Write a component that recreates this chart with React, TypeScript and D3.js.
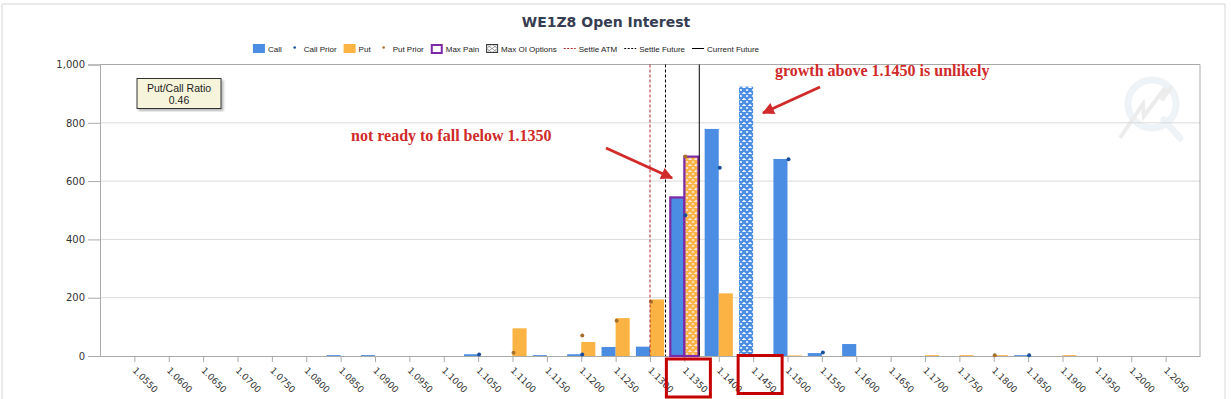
import React, { useRef, useEffect } from 'react';
import * as d3 from 'd3';

// strikes on the x axis
const strikes = [
  '1.0550', '1.0600', '1.0650', '1.0700', '1.0750', '1.0800', '1.0850', '1.0900',
  '1.0950', '1.1000', '1.1050', '1.1100', '1.1150', '1.1200', '1.1250', '1.1300',
  '1.1350', '1.1400', '1.1450', '1.1500', '1.1550', '1.1600', '1.1650', '1.1700',
  '1.1750', '1.1800', '1.1850', '1.1900', '1.1950', '1.2000', '1.2050',
];

const calls = [
  0, 0, 0, 0, 0, 0, 3, 3, 0, 0, 6, 0, 3, 6, 31, 32,
  544, 779, 924, 676, 10, 41, 0, 0, 0, 0, 3, 0, 0, 0, 0,
];
const puts = [
  0, 0, 0, 0, 0, 0, 0, 0, 0, 0, 0, 95, 0, 48, 130, 194,
  684, 215, 0, 2, 0, 0, 0, 3, 3, 3, 0, 3, 0, 0, 0,
];
const callPrior = [
  null, null, null, null, null, null, null, null, null, null, 5, null, null, 5, null, null,
  483, 646, null, 675, 12, null, null, null, null, null, 3, null, null, null, null,
];
const putPrior = [
  null, null, null, null, null, null, null, null, null, null, null, 11, null, 70, 121, 186,
  684, null, null, null, null, null, null, null, null, 3, null, null, null, null, null,
];

const maxPainStrike = '1.1350';
const maxOiCallStrike = '1.1450';
const maxOiPutStrike = '1.1350';
const settleAtm = 1.13;
const settleFuture = 1.13225;
const currentFuture = 1.13717;
const putCallRatio = '0.46';
const yTicks = [0, 200, 400, 600, 800, 1000];
const highlighted = ['1.1350', '1.1450'];

const legendItems = [
  { key: 'call', label: 'Call' },
  { key: 'callPrior', label: 'Call Prior' },
  { key: 'put', label: 'Put' },
  { key: 'putPrior', label: 'Put Prior' },
  { key: 'maxPain', label: 'Max Pain' },
  { key: 'maxOi', label: 'Max OI Options' },
  { key: 'settleAtm', label: 'Settle ATM' },
  { key: 'settleFuture', label: 'Settle Future' },
  { key: 'currentFuture', label: 'Current Future' },
];

const CALL = '#4a8de3';
const PUT = '#fbb444';
const CALL_PRIOR = '#1b4f9a';
const PUT_PRIOR = '#a86f2c';
const PAIN = '#7d2aa8';
const RED = '#d02a2a';
const FONT = 'Tahoma, "Liberation Sans Narrow", "Liberation Sans", sans-serif';

const App = () => {
  const ref = useRef(null);
  const width = 1231;
  const height = 399;
  const left = 100;
  const right = 1200;
  const top = 64.5;
  const bottom = 356;

  useEffect(() => {
    const svg = d3.select(ref.current);
    svg.selectAll('*').remove();

    const x = d3.scalePoint().domain(strikes).range([left, right]).padding(1);
    const step = x.step();
    const barW = step * 0.41;
    const xv = d3
      .scaleLinear()
      .domain([+strikes[0], +strikes[strikes.length - 1]])
      .range([x(strikes[0]), x(strikes[strikes.length - 1])]);
    const y = d3.scaleLinear().domain([0, 1000]).range([bottom, top]);

    const defs = svg.append('defs');
    const hatch = (id, bg, fg) => {
      const p = defs
        .append('pattern')
        .attr('id', id)
        .attr('patternUnits', 'userSpaceOnUse')
        .attr('width', 6)
        .attr('height', 6);
      p.append('rect').attr('width', 6).attr('height', 6).attr('fill', bg);
      p.append('path')
        .attr('d', 'M0,0L6,6M6,0L0,6M-1,5L1,7M5,-1L7,1M-1,1L1,-1M5,7L7,5')
        .attr('stroke', fg)
        .attr('stroke-width', 2.3);
    };
    hatch('hatchCall', '#f4f8fd', CALL);
    hatch('hatchPut', '#fbe6dc', PUT);
    defs
      .append('marker')
      .attr('id', 'arrow')
      .attr('viewBox', '0 0 10 10')
      .attr('refX', 9)
      .attr('refY', 5)
      .attr('markerWidth', 4.5)
      .attr('markerHeight', 4)
      .attr('orient', 'auto')
      .append('path')
      .attr('d', 'M0,0L10,5L0,10z')
      .attr('fill', RED);
    const shadow = defs.append('filter').attr('id', 'shadow');
    shadow
      .append('feDropShadow')
      .attr('dx', 2)
      .attr('dy', 2)
      .attr('stdDeviation', 1)
      .attr('flood-color', '#888')
      .attr('flood-opacity', 0.6);

    // page frame
    svg.append('path')
      .attr('d', `M2,399V4H1225V399`)
      .attr('fill', 'none')
      .attr('stroke', '#d6d6d6');

    // title
    svg.append('text')
      .attr('x', 606)
      .attr('y', 27)
      .attr('text-anchor', 'middle')
      .attr('font-family', '"DejaVu Sans", sans-serif')
      .attr('font-weight', 'bold')
      .attr('font-size', 14)
      .attr('fill', '#363d52')
      .text('WE1Z8 Open Interest');

    // watermark
    const wm = svg.append('g');
    wm.append('circle')
      .attr('cx', 1152).attr('cy', 104).attr('r', 24)
      .attr('fill', 'none').attr('stroke', '#eef3f7').attr('stroke-width', 7);
    wm.append('path')
      .attr('d', 'M1164,120L1180,138')
      .attr('stroke', '#eef3f7').attr('stroke-width', 7).attr('stroke-linecap', 'round');
    wm.append('path')
      .attr('d', 'M1120,138L1143,104L1144,116L1165,88L1162,100L1172,86')
      .attr('fill', 'none').attr('stroke', '#ececec').attr('stroke-width', 4);

    // grid
    svg.append('g')
      .selectAll('line')
      .data(yTicks.filter(t => t > 0 && t < 1000))
      .enter()
      .append('line')
      .attr('x1', left).attr('x2', right)
      .attr('y1', d => y(d)).attr('y2', d => y(d))
      .attr('stroke', '#dadada');

    svg.append('path')
      .attr('d', `M${left},${y(1000)}H${right}V${bottom}`)
      .attr('fill', 'none')
      .attr('stroke', '#a8a8a8');

    // y axis
    const yAxis = svg.append('g')
      .attr('transform', `translate(${left},0)`)
      .call(d3.axisLeft(y).tickValues(yTicks).tickFormat(d3.format(',')).tickSize(12).tickPadding(3));
    yAxis.select('.domain').attr('stroke', '#aaa');
    yAxis.selectAll('line').attr('stroke', '#aaa');
    yAxis.selectAll('text')
      .attr('font-family', '"DejaVu Sans", sans-serif')
      .attr('font-size', 10)
      .attr('fill', '#333');

    // x axis
    const xAxis = svg.append('g')
      .attr('transform', `translate(0,${bottom})`)
      .call(d3.axisBottom(x).tickSize(6).tickSizeOuter(0));
    xAxis.select('.domain').attr('stroke', '#aaa');
    xAxis.selectAll('line').attr('stroke', '#aaa');
    xAxis.selectAll('text')
      .attr('font-family', '"DejaVu Sans", sans-serif')
      .attr('font-size', 9)
      .attr('fill', '#333')
      .attr('text-anchor', 'start')
      .attr('dy', 0)
      .attr('y', 0)
      .attr('transform', 'translate(-3,15) rotate(45)');

    const rows = strikes.map((s, i) => ({
      s,
      call: calls[i],
      put: puts[i],
      callPrior: callPrior[i],
      putPrior: putPrior[i],
    }));

    // call bars
    svg.append('g')
      .selectAll('rect')
      .data(rows.filter(d => d.call > 0))
      .enter()
      .append('rect')
      .attr('x', d => x(d.s) - barW)
      .attr('y', d => y(d.call))
      .attr('width', barW)
      .attr('height', d => bottom - y(d.call))
      .attr('fill', d => (d.s === maxOiCallStrike ? 'url(#hatchCall)' : CALL))
      .attr('stroke', d => (d.s === maxPainStrike ? PAIN : 'none'))
      .attr('stroke-width', 2.2);

    // put bars
    svg.append('g')
      .selectAll('rect')
      .data(rows.filter(d => d.put > 0))
      .enter()
      .append('rect')
      .attr('x', d => x(d.s))
      .attr('y', d => y(d.put))
      .attr('width', barW)
      .attr('height', d => bottom - y(d.put))
      .attr('fill', d => (d.s === maxOiPutStrike ? 'url(#hatchPut)' : PUT))
      .attr('stroke', d => (d.s === maxPainStrike ? PAIN : 'none'))
      .attr('stroke-width', 2.2);

    // prior dots
    svg.append('g')
      .selectAll('circle')
      .data(rows.filter(d => d.callPrior !== null))
      .enter()
      .append('circle')
      .attr('cx', d => x(d.s) + 1)
      .attr('cy', d => y(d.callPrior))
      .attr('r', 2)
      .attr('fill', CALL_PRIOR);
    svg.append('g')
      .selectAll('circle')
      .data(rows.filter(d => d.putPrior !== null))
      .enter()
      .append('circle')
      .attr('cx', d => x(d.s) + 1)
      .attr('cy', d => y(d.putPrior))
      .attr('r', 2)
      .attr('fill', PUT_PRIOR);

    // settle / current lines
    const vline = (v, color, dash) =>
      svg.append('line')
        .attr('x1', xv(v)).attr('x2', xv(v))
        .attr('y1', top).attr('y2', bottom)
        .attr('stroke', color)
        .attr('stroke-width', 1)
        .attr('stroke-dasharray', dash);
    vline(settleAtm, '#b22222', '3,2');
    vline(settleFuture, '#000', '3,2');
    vline(currentFuture, '#000', null);

    // put/call ratio box
    const box = svg.append('g');
    box.append('rect')
      .attr('x', 137).attr('y', 78.5)
      .attr('width', 84).attr('height', 30)
      .attr('fill', '#f6f5dc')
      .attr('stroke', '#333')
      .attr('filter', 'url(#shadow)');
    box.append('text')
      .attr('x', 179).attr('y', 92)
      .attr('text-anchor', 'middle')
      .attr('font-family', FONT)
      .attr('font-size', 10.5)
      .attr('fill', '#222')
      .text('Put/Call Ratio');
    box.append('text')
      .attr('x', 179).attr('y', 104)
      .attr('text-anchor', 'middle')
      .attr('font-family', FONT)
      .attr('font-size', 10.5)
      .attr('fill', '#222')
      .text(putCallRatio);

    // legend
    const legend = svg.append('g');
    const gap = 7;
    let cx = 0;
    legendItems.forEach(item => {
      const g = legend.append('g');
      const sym = g.append('g');
      if (item.key === 'call' || item.key === 'put') {
        sym.append('rect').attr('x', 0).attr('y', -4.5).attr('width', 12).attr('height', 9)
          .attr('fill', item.key === 'call' ? CALL : PUT);
      } else if (item.key === 'callPrior' || item.key === 'putPrior') {
        sym.append('circle').attr('cx', 6).attr('cy', -1).attr('r', 1.3)
          .attr('fill', item.key === 'callPrior' ? CALL_PRIOR : PUT_PRIOR);
      } else if (item.key === 'maxPain') {
        sym.append('rect').attr('x', 1).attr('y', -3.5).attr('width', 10).attr('height', 8)
          .attr('fill', 'none').attr('stroke', PAIN).attr('stroke-width', 2);
      } else if (item.key === 'maxOi') {
        sym.append('rect').attr('x', 0.5).attr('y', -4).attr('width', 11).attr('height', 8)
          .attr('fill', 'none').attr('stroke', '#333');
        sym.append('path').attr('d', 'M0.5,-4L11.5,4M11.5,-4L0.5,4M6,-4L11.5,0L6,4L0.5,0Z')
          .attr('fill', 'none').attr('stroke', '#666').attr('stroke-width', 0.6);
      } else {
        const color = item.key === 'settleAtm' ? '#b22222' : '#000';
        sym.append('line').attr('x1', 0).attr('x2', 12).attr('y1', 0).attr('y2', 0)
          .attr('stroke', color)
          .attr('stroke-dasharray', item.key === 'currentFuture' ? null : '2,1.5');
      }
      const t = g.append('text')
        .attr('x', 15)
        .attr('y', 3)
        .attr('font-family', FONT)
        .attr('font-size', 8)
        .attr('fill', '#222')
        .text(item.label);
      const w = 15 + t.node().getComputedTextLength();
      g.attr('transform', `translate(${cx},0)`);
      cx += w + gap;
    });
    const total = cx - gap;
    legend.attr('transform', `translate(${506 - total / 2},48.5)`);

    // annotations
    const note = (tx, ty, label) =>
      svg.append('text')
        .attr('x', tx).attr('y', ty)
        .attr('font-family', '"Liberation Serif", serif')
        .attr('font-weight', 'bold')
        .attr('font-size', 16)
        .attr('fill', RED)
        .text(label);
    note(351, 141, 'not ready to fall below 1.1350');
    note(775, 76, 'growth above 1.1450 is unlikely');

    const arrow = (x1, y1, x2, y2) =>
      svg.append('line')
        .attr('x1', x1).attr('y1', y1).attr('x2', x2).attr('y2', y2)
        .attr('stroke', RED).attr('stroke-width', 3)
        .attr('marker-end', 'url(#arrow)');
    arrow(606, 148, 672, 178);
    arrow(820, 87, 763, 113);

    // highlight boxes around strike labels
    svg.append('g')
      .selectAll('rect')
      .data(highlighted)
      .enter()
      .append('rect')
      .attr('x', (d, i) => x(d) - (i === 0 ? 18 : 15))
      .attr('y', (d, i) => (i === 0 ? 359 : 355.5))
      .attr('width', 44)
      .attr('height', 38)
      .attr('fill', 'none')
      .attr('stroke', '#c40000')
      .attr('stroke-width', 3);
  }, []);

  return (
    <svg
      ref={ref}
      width={width}
      height={height}
      style={{ position: 'absolute', left: 0, top: 0, background: '#fff' }}
    />
  );
};

export default App;
